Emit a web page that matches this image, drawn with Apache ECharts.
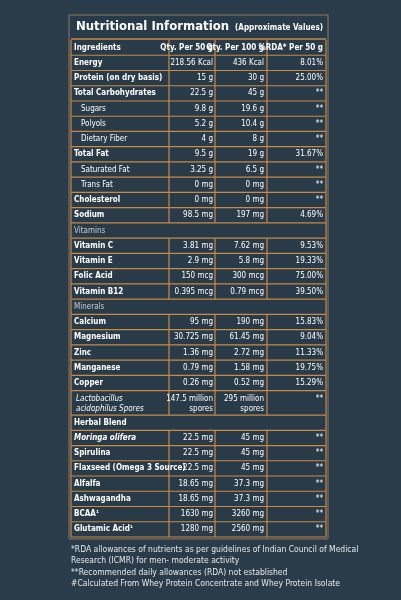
<!DOCTYPE html><html><head><meta charset="utf-8">
<script src="https://cdn.jsdelivr.net/npm/echarts@6/dist/echarts.min.js"></script>
<style>html,body{margin:0;padding:0;background:#2a3c4a}#c{width:401px;height:600px}</style></head><body><div id="c"></div>
<script>
const ingredients=["Ingredients","Energy","Protein (on dry basis)","Total Carbohydrates","Sugars","Polyols","Dietary Fiber","Total Fat","Saturated Fat","Trans Fat","Cholesterol","Sodium","Vitamins","Vitamin C","Vitamin E","Folic Acid","Vitamin B12","Minerals","Calcium","Magnesium","Zinc","Manganese","Copper","Lactobacillus\nacidophilus Spores","Herbal Blend","Moringa olifera","Spirulina","Flaxseed (Omega 3 Source)","Alfalfa","Ashwagandha","BCAA\u00b9","Glutamic Acid\u00b9"];
const per50=["Qty. Per 50 g","218.56 Kcal","15 g","22.5 g","9.8 g","5.2 g","4 g","9.5 g","3.25 g","0 mg","0 mg","98.5 mg","","3.81 mg","2.9 mg","150 mcg","0.395 mcg","","95 mg","30.725 mg","1.36 mg","0.79 mg","0.26 mg","147.5 million\nspores","","22.5 mg","22.5 mg","22.5 mg","18.65 mg","18.65 mg","1630 mg","1280 mg"];
const per100=["Qty. Per 100 g","436 Kcal","30 g","45 g","19.6 g","10.4 g","8 g","19 g","6.5 g","0 mg","0 mg","197 mg","","7.62 mg","5.8 mg","300 mcg","0.79 mcg","","190 mg","61.45 mg","2.72 mg","1.58 mg","0.52 mg","295 million\nspores","","45 mg","45 mg","45 mg","37.3 mg","37.3 mg","3260 mg","2560 mg"];
const rda=["%RDA* Per 50 g","8.01%","25.00%","**","**","**","**","31.67%","**","**","**","4.69%","","9.53%","19.33%","75.00%","39.50%","","15.83%","9.04%","11.33%","19.75%","15.29%","**","","**","**","**","**","**","**","**"];
const sub=[4,5,6,8,9], sectionRows=[12,17], spanBold=[24], italicRows=[23,25], tall=[23];
const footnotes="*RDA allowances of nutrients as per guidelines of Indian Council of Medical\nResearch (ICMR) for men- moderate activity\n**Recommended daily allowances (RDA) not established\n#Calculated From Whey Protein Concentrate and Whey Protein Isolate";
let y=0;const rows=ingredients.map((n,i)=>{const h=tall.includes(i)?1.6:1;const r=[i,y,y+h];y+=h;return r;});
const total=y;
const F="'Liberation Sans Narrow','DejaVu Sans Condensed',sans-serif";
const ORANGE="#c98a45", COLS=[169,215,267], RIGHTS=[213,264,323];
const chart=echarts.init(document.getElementById('c'));
chart.setOption({backgroundColor:'#2a3c4a',animation:false,
grid:{left:71,right:75,top:40,bottom:63},
xAxis:{type:'value',min:71,max:326,show:false},
yAxis:{type:'value',min:0,max:total,inverse:true,show:false},
graphic:[
{type:'rect',shape:{x:69,y:15,width:259,height:524},style:{fill:'#293b49',stroke:'#8a7a60',lineWidth:1}},
{type:'text',x:76,y:27,style:{text:'Nutritional Information',font:'bold 13px '+F,fill:'#fff',verticalAlign:'middle'}},
{type:'text',x:323,y:28,style:{text:'(Approximate Values)',font:'bold 8px '+F,fill:'#fff',align:'right',verticalAlign:'middle'}},
{type:'line',shape:{x1:71,y1:39,x2:326,y2:39},style:{stroke:ORANGE,lineWidth:1.5}},
{type:'text',x:71,y:544,style:{text:footnotes,font:'8.5px '+F,fill:'#e8e8e8',lineHeight:11.5}}
],
series:[{type:'custom',data:rows,renderItem:(p,api)=>{
 const i=api.value(0),a=api.coord([71,api.value(1)]),b=api.coord([326,api.value(2)]);
 const y0=a[1],y1=b[1],ym=(y0+y1)/2,ch=[];
 const sec=sectionRows.includes(i),span=sec||spanBold.includes(i);
 const bold=!sec&&!sub.includes(i)&&i!==23;
 ch.push({type:'line',shape:{x1:71,y1:y1,x2:326,y2:y1},style:{stroke:ORANGE,lineWidth:1.2}});
 if(!span)COLS.forEach(c=>{const x=api.coord([c,0])[0];ch.push({type:'line',shape:{x1:x,y1:y0,x2:x,y2:y1},style:{stroke:ORANGE,lineWidth:1.2}});});
 [71,326].forEach(c=>{const x=api.coord([c,0])[0];ch.push({type:'line',shape:{x1:x,y1:y0,x2:x,y2:y1},style:{stroke:ORANGE,lineWidth:1.2}});});
 const lx=74+(sub.includes(i)?7:0)+(i===23?2:0);
 const fs=bold?'bold ':'';
 const it=italicRows.includes(i)?'italic ':'';
 const tall_=tall.includes(i);
 ch.push({type:'text',x:lx,y:tall_?y0+3:ym,style:{text:ingredients[i],font:it+fs+'8px '+F,fill:sec?'#c8ccd0':'#fff',verticalAlign:tall_?'top':'middle',lineHeight:10}});
 [per50,per100,rda].forEach((arr,k)=>{const rx=api.coord([RIGHTS[k],0])[0];
  ch.push({type:'text',x:rx,y:tall_?y0+3:ym,style:{text:arr[i],font:(i===0?'bold ':'')+'8px '+F,fill:'#fff',align:'right',verticalAlign:tall_?'top':'middle',lineHeight:10}});});
 return {type:'group',children:ch};
}}]});
</script></body></html>
